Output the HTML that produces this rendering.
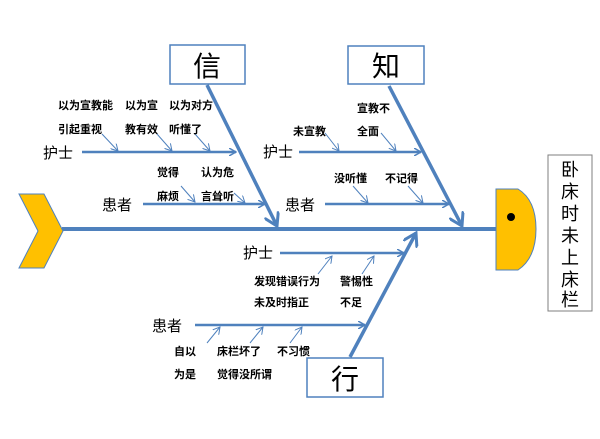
<!DOCTYPE html>
<html><head><meta charset="utf-8">
<style>
html,body{margin:0;padding:0;background:#fff;}
svg{display:block;}
text{font-family:"Liberation Sans","Noto Sans CJK SC",sans-serif;fill:#000;}
.s{font-size:11px;font-weight:bold;}
.m{font-size:15px;}
</style></head><body>
<svg width="600" height="439" viewBox="0 0 600 439" xmlns="http://www.w3.org/2000/svg">
<defs>
<marker id="a" markerWidth="8" markerHeight="8" refX="7" refY="4" orient="auto" markerUnits="userSpaceOnUse"><path d="M0,0 L7,4 L0,8" fill="none" stroke="#4f81bd" stroke-width="1.5"/></marker>
<marker id="b" markerWidth="16" markerHeight="16" refX="13" refY="8" orient="auto" markerUnits="userSpaceOnUse"><path d="M0,0 L13,8 L0,16" fill="none" stroke="#4f81bd" stroke-width="3"/></marker>
<marker id="c" markerWidth="8" markerHeight="8" refX="7" refY="4" orient="auto" markerUnits="userSpaceOnUse"><path d="M0,0 L7,4 L0,8" fill="none" stroke="#4f81bd" stroke-width="1"/></marker>
</defs>
<line x1="62" y1="229" x2="497" y2="229" stroke="#4f81bd" stroke-width="4"/>
<polygon points="19,194 44,194 63,231 44,268 19,268 38,231" fill="#ffc000" stroke="#4f81bd" stroke-width="1"/>
<path d="M496,189 L518,189 Q536,200 536,229 Q536,258 518,270 L496,270 Z" fill="#ffc000" stroke="#4f81bd" stroke-width="1"/>
<circle cx="511" cy="217" r="4" fill="#000"/>
<rect x="548" y="155" width="44" height="156" fill="#fff" stroke="#7f7f7f" stroke-width="1"/>
<g font-size="18" text-anchor="middle">
<text x="570" y="176">卧</text><text x="570" y="198">床</text><text x="570" y="220">时</text><text x="570" y="242">未</text><text x="570" y="264">上</text><text x="570" y="286">床</text><text x="570" y="306">栏</text>
</g>
<rect x="170" y="45" width="75" height="39" fill="#fff" stroke="#4f81bd" stroke-width="1.5"/>
<text x="207" y="76" font-size="28" text-anchor="middle">信</text>
<rect x="348" y="46" width="76" height="38" fill="#fff" stroke="#4f81bd" stroke-width="1.5"/>
<text x="386" y="76" font-size="28" text-anchor="middle">知</text>
<rect x="307" y="358" width="76" height="39" fill="#fff" stroke="#4f81bd" stroke-width="1.5"/>
<text x="345" y="389" font-size="28" text-anchor="middle">行</text>
<line x1="207" y1="85" x2="277" y2="226" stroke="#4f81bd" stroke-width="3.5" marker-end="url(#b)"/>
<line x1="389" y1="86" x2="462" y2="226" stroke="#4f81bd" stroke-width="3.5" marker-end="url(#b)"/>
<line x1="350" y1="357" x2="416" y2="233" stroke="#4f81bd" stroke-width="3.5" marker-end="url(#b)"/>
<g stroke="#4f81bd" stroke-width="2.5" fill="none">
<line x1="82" y1="152" x2="236" y2="152" marker-end="url(#a)"/>
<line x1="143" y1="204" x2="265" y2="204" marker-end="url(#a)"/>
<line x1="299" y1="152" x2="421" y2="152" marker-end="url(#a)"/>
<line x1="325" y1="204" x2="449" y2="204" marker-end="url(#a)"/>
<line x1="280" y1="253" x2="404" y2="253" marker-end="url(#a)"/>
<line x1="195" y1="325" x2="365" y2="325" marker-end="url(#a)"/>
</g>
<g stroke="#4f81bd" stroke-width="1" fill="none">
<line x1="102" y1="134" x2="118" y2="151" marker-end="url(#c)"/>
<line x1="157" y1="134" x2="172" y2="151" marker-end="url(#c)"/>
<line x1="195" y1="134" x2="210" y2="151" marker-end="url(#c)"/>
<line x1="181" y1="186" x2="195" y2="202" marker-end="url(#c)"/>
<line x1="234" y1="193" x2="245" y2="203" marker-end="url(#c)"/>
<line x1="325" y1="133" x2="339" y2="151" marker-end="url(#c)"/>
<line x1="381" y1="133" x2="396" y2="151" marker-end="url(#c)"/>
<line x1="353" y1="186" x2="368" y2="203" marker-end="url(#c)"/>
<line x1="408" y1="186" x2="423" y2="203" marker-end="url(#c)"/>
<line x1="318" y1="274" x2="332" y2="256" marker-end="url(#c)"/>
<line x1="362" y1="274" x2="374" y2="256" marker-end="url(#c)"/>
<line x1="207" y1="343" x2="220" y2="327" marker-end="url(#c)"/>
<line x1="250" y1="343" x2="263" y2="327" marker-end="url(#c)"/>
<line x1="290" y1="343" x2="302" y2="327" marker-end="url(#c)"/>
</g>
<g class="m">
<text x="43" y="158">护士</text>
<text x="102" y="210">患者</text>
<text x="263" y="157">护士</text>
<text x="285" y="210">患者</text>
<text x="243" y="258">护士</text>
<text x="152" y="331">患者</text>
</g>
<g class="s">
<text x="58" y="109">以为宣教能</text>
<text x="58" y="133">引起重视</text>
<text x="125" y="109">以为宣</text>
<text x="125" y="133">教有效</text>
<text x="169" y="109">以为对方</text>
<text x="169" y="133">听懂了</text>
<text x="157" y="176">觉得</text>
<text x="157" y="200">麻烦</text>
<text x="201" y="176">认为危</text>
<text x="201" y="200">言耸听</text>
<text x="357" y="112">宣教不</text>
<text x="357" y="135">全面</text>
<text x="293" y="135">未宣教</text>
<text x="334" y="182">没听懂</text>
<text x="385" y="182">不记得</text>
<text x="254" y="285">发现错误行为</text>
<text x="254" y="306">未及时指正</text>
<text x="340" y="285">警惕性</text>
<text x="340" y="306">不足</text>
<text x="174" y="355">自以</text>
<text x="174" y="378">为是</text>
<text x="217" y="355">床栏坏了</text>
<text x="217" y="378">觉得没所谓</text>
<text x="277" y="355">不习惯</text>
</g>
</svg>
</body></html>
